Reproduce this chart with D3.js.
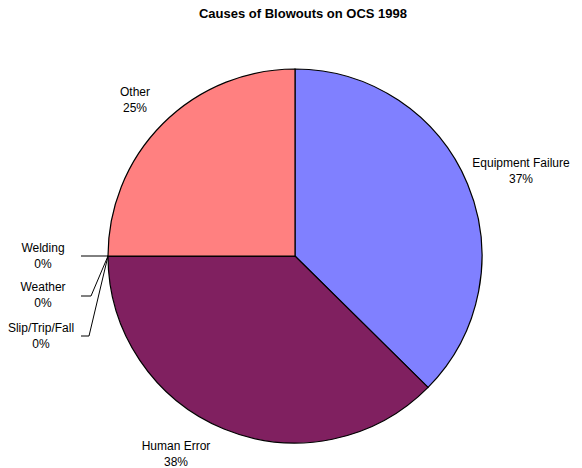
<!DOCTYPE html>
<html><head><meta charset="utf-8">
<script src="https://cdn.jsdelivr.net/npm/d3@7"></script>
<style>body{margin:0;background:#fff}svg{display:block}text{font-family:"Liberation Sans",Arial,sans-serif;fill:#000}</style>
</head><body><svg id="c" width="582" height="468"></svg>
<script>
const categories = ["Equipment Failure","Human Error","Slip/Trip/Fall","Weather","Welding","Other"];
const values = [37.4, 37.6, 0, 0, 0, 25];
const pctLabels = ["37%","38%","0%","0%","0%","25%"];
const colors = ["#8080FF","#802060","#FFFFFF","#FFFFFF","#FFFFFF","#FF8080"];

const W=582,H=468,cx=295,cy=256,R=187;
const svg=d3.select("#c");
svg.append("text").attr("x",303).attr("y",18).attr("text-anchor","middle")
  .style("font-size","13px").style("font-weight","bold").text("Causes of Blowouts on OCS 1998");

const pie=d3.pie().sort(null).value(d=>d)(values);
const arc=d3.arc().innerRadius(0).outerRadius(R);
const g=svg.append("g").attr("transform",`translate(${cx},${cy})`);
g.selectAll("path").data(pie).join("path").attr("d",arc)
  .attr("fill",(d,i)=>colors[i]).attr("stroke","#000").attr("stroke-width",1.2);

// label placement (layout only)
const labelPos = {
  0:{x:521,y:167},
  1:{x:176,y:450},
  5:{x:135,y:96},
  2:{x:41,y:332},
  3:{x:43,y:291},
  4:{x:43,y:252}
};
const lines=[{i:4,y:256,x1:81,xb:null},{i:3,y:296,x1:81,xb:91},{i:2,y:336,x1:81,xb:89}];
pie.forEach((d,i)=>{
  const p=labelPos[i];
  const t=svg.append("text").attr("text-anchor","middle").style("font-size","12px");
  t.append("tspan").attr("x",p.x).attr("y",p.y).text(categories[i]);
  t.append("tspan").attr("x",p.x).attr("y",p.y+16).text(pctLabels[i]);
});
lines.forEach(l=>{
  const d=pie[l.i];
  const a=(d.startAngle+d.endAngle)/2;
  const ex=cx+Math.sin(a)*R, ey=cy-Math.cos(a)*R;
  const pts = l.xb===null ? [[l.x1,l.y],[ex,ey]] : [[l.x1,l.y],[l.xb,l.y],[ex,ey]];
  svg.append("path").attr("d",d3.line()(pts)).attr("fill","none").attr("stroke","#000").attr("stroke-width",1);
});
</script></body></html>
